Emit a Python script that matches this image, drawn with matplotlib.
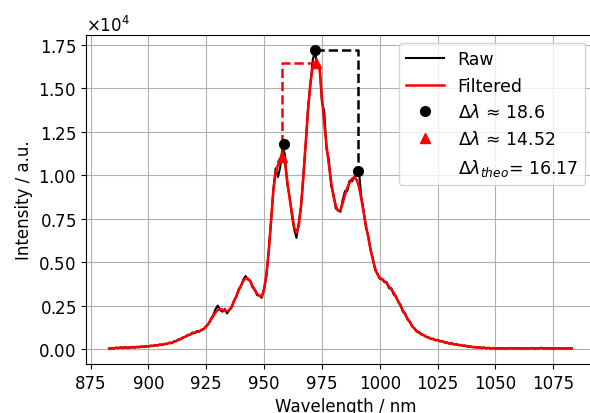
import numpy as np
import matplotlib
matplotlib.use("Agg")
import matplotlib.pyplot as plt

# spectrometer sampling grid (nm)
wavelength = np.arange(883, 1084)

raw = [
    20, 60, 30, 90, 50, 100, 60, 110, 70, 80,
    120, 80, 130, 100, 150, 120, 170, 140, 200, 170,
    230, 200, 270, 230, 300, 290, 370, 330, 440, 450,
    560, 570, 680, 700, 820, 810, 950, 920, 1040, 1000,
    1120, 1150, 1340, 1450, 1750, 1950, 2300, 2500, 2250, 2150,
    2300, 2050, 2250, 2400, 2800, 3000, 3450, 3600, 4000, 4200,
    4000, 3950, 3550, 3420, 3100, 3100, 2950, 3500, 4200, 5700,
    7300, 9200, 10400, 9900, 10500, 11700, 11200, 9500, 8800, 7700,
    6900, 6400, 7300, 8200, 10100, 11800, 13900, 15200, 16600, 17200,
    16200, 16300, 14200, 13700, 11500, 10900, 9400, 8900, 8100, 8000,
    7900, 8600, 9100, 9100, 9700, 9650, 9900, 10000, 10250, 8800,
    8000, 7000, 6550, 5700, 5250, 4550, 4350, 4050, 4050, 3850,
    3850, 3500, 3500, 3150, 3050, 2700, 2550, 2150, 2050, 1700,
    1600, 1300, 1200, 1000, 980, 830, 820, 690, 690, 580,
    600, 500, 530, 440, 470, 370, 390, 310, 340, 260,
    290, 220, 240, 180, 200, 140, 160, 100, 130, 80,
    110, 60, 90, 40, 80, 30, 70, 20, 60, 30,
    60, 20, 50, 30, 70, 20, 60, 40, 30, 60,
    20, 50, 30, 70, 10, 50, 40, 80, 20, 50,
    30, 60, 10, 50, 40, 30, 60, 20, 50, 30, 40,
]

filtered = [
    30, 40, 50, 60, 70, 75, 80, 85, 88, 90,
    95, 100, 110, 120, 130, 140, 150, 160, 175, 190,
    205, 220, 240, 260, 280, 310, 340, 370, 420, 470,
    520, 590, 650, 720, 780, 840, 900, 950, 990, 1030,
    1090, 1170, 1300, 1470, 1680, 1900, 2120, 2250, 2290, 2270,
    2200, 2180, 2260, 2450, 2750, 3060, 3370, 3660, 3920, 4080,
    4060, 3900, 3640, 3380, 3180, 3060, 3030, 3400, 4300, 5600,
    7400, 9100, 10150, 10600, 10850, 11050, 10700, 9700, 8700, 7900,
    7000, 6700, 7100, 8300, 9900, 11900, 13700, 15300, 16200, 16450,
    16400, 16100, 14500, 13000, 11700, 10600, 9600, 8800, 8250, 7950,
    8000, 8400, 8900, 9300, 9600, 9800, 9880, 9750, 9350, 8650,
    7900, 7150, 6450, 5750, 5150, 4650, 4300, 4100, 4000, 3920,
    3780, 3600, 3420, 3250, 3000, 2750, 2480, 2220, 1980, 1750,
    1540, 1340, 1170, 1040, 940, 860, 790, 720, 660, 610,
    570, 530, 500, 470, 440, 400, 360, 330, 310, 290,
    260, 240, 220, 200, 180, 160, 140, 120, 105, 95,
    85, 75, 65, 58, 52, 48, 45, 42, 40, 40,
    40, 40, 40, 40, 40, 40, 40, 40, 40, 40,
    40, 40, 40, 40, 40, 40, 40, 40, 40, 40,
    40, 40, 40, 40, 40, 40, 40, 40, 40, 40, 40,
]

# peaks found on raw (circles) and filtered (triangles)
raw_peak_x = [958.4, 972.0, 990.6]
raw_peak_y = [11780, 17200, 10250]
filt_peak_x = [957.88, 972.40]
filt_peak_y = [11050, 16450]

labels = ["Raw", "Filtered", r"$\Delta\lambda$ ≈ 18.6",
          r"$\Delta\lambda$ ≈ 14.52", r"$\Delta\lambda_{theo}$= 16.17"]

plt.rcParams["font.size"] = 12
fig = plt.figure(figsize=(5.9, 4.14), dpi=100)
# axes extends past the right edge of the picture (as in the reference)
ax = fig.add_axes([86 / 590, 49 / 414, 520 / 590, 328.7 / 414])

ax.plot(wavelength, raw, color="black", lw=1.5, label=labels[0], zorder=2)
ax.plot(wavelength, filtered, color="red", lw=1.8, label=labels[1], zorder=3)

# black dashed bracket: main peak -> right shoulder
ax.plot([raw_peak_x[1], raw_peak_x[2], raw_peak_x[2]],
        [raw_peak_y[1], raw_peak_y[1], raw_peak_y[2]],
        color="black", ls="--", lw=1.8, zorder=3)
# red dashed bracket: left shoulder -> main peak
ax.plot([filt_peak_x[0], filt_peak_x[0], filt_peak_x[1]],
        [filt_peak_y[0], filt_peak_y[1], filt_peak_y[1]],
        color="red", ls="--", lw=1.8, zorder=3)

ax.plot(raw_peak_x, raw_peak_y, "o", color="black", ms=7, ls="none",
        label=labels[2], zorder=4)
ax.plot(filt_peak_x, filt_peak_y, "^", color="red", ms=7, ls="none",
        label=labels[3], zorder=5)
ax.plot([], [], " ", label=labels[4])

ax.set_xlim(873.0, 873.0 + 220.5 * 520 / 510)
ax.set_ylim(-860, 18060)
ax.set_xticks([875, 900, 925, 950, 975, 1000, 1025, 1050, 1075])
ax.set_yticks([0, 2500, 5000, 7500, 10000, 12500, 15000, 17500])
ax.ticklabel_format(axis="y", style="sci", scilimits=(0, 0), useMathText=True)
ax.grid(True, color="#b0b0b0", lw=0.8)
ax.set_axisbelow(True)

ax.set_xlabel("Wavelength / nm")
ax.set_ylabel("Intensity / a.u.")
ax.legend(loc="upper right", bbox_to_anchor=(585 / 590, 1 - 44 / 414),
          bbox_transform=fig.transFigure, borderaxespad=0,
          handlelength=2.2, fontsize=12.5)

fig.savefig("out.png", dpi=100)
